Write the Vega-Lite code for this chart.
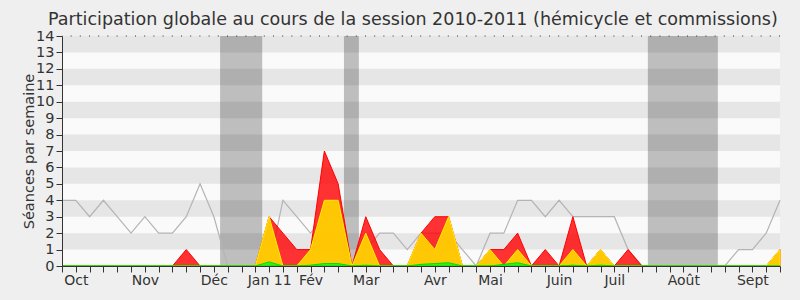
{
  "$schema": "https://vega.github.io/schema/vega-lite/v6.json",
  "width": 718,
  "height": 230,
  "autosize": {"type": "none"},
  "padding": {"left": 62, "top": 36, "right": 20, "bottom": 34},
  "background": "#efefef",
  "title": {"text": "Participation globale au cours de la session 2010-2011 (hémicycle et commissions)", "font": "DejaVu Sans", "fontSize": 17.5, "fontWeight": "normal", "color": "#333333", "anchor": "start", "frame": "group", "dx": -14, "offset": 0},
  "config": {
    "view": {"fill": "#fafafa", "stroke": null},
    "axis": {"labelFont": "DejaVu Sans", "titleFont": "DejaVu Sans", "labelColor": "#333333", "titleColor": "#333333", "domainColor": "#333333", "tickColor": "#333333", "grid": false}
  },
  "resolve": {"axis": {"x": "independent", "y": "independent"}},
  "datasets": {
    "weeks": [
      {"w": 0, "mediane": 4, "presence": 0, "participation": 0, "interventions": 0},
      {"w": 1, "mediane": 4, "presence": 0, "participation": 0, "interventions": 0},
      {"w": 2, "mediane": 3, "presence": 0, "participation": 0, "interventions": 0},
      {"w": 3, "mediane": 4, "presence": 0, "participation": 0, "interventions": 0},
      {"w": 4, "mediane": 3, "presence": 0, "participation": 0, "interventions": 0},
      {"w": 5, "mediane": 2, "presence": 0, "participation": 0, "interventions": 0},
      {"w": 6, "mediane": 3, "presence": 0, "participation": 0, "interventions": 0},
      {"w": 7, "mediane": 2, "presence": 0, "participation": 0, "interventions": 0},
      {"w": 8, "mediane": 2, "presence": 0, "participation": 0, "interventions": 0},
      {"w": 9, "mediane": 3, "presence": 1, "participation": 0, "interventions": 0},
      {"w": 10, "mediane": 5, "presence": 0, "participation": 0, "interventions": 0},
      {"w": 11, "mediane": 3, "presence": 0, "participation": 0, "interventions": 0},
      {"w": 12, "mediane": 0, "presence": 0, "participation": 0, "interventions": 0},
      {"w": 13, "mediane": 0, "presence": 0, "participation": 0, "interventions": 0},
      {"w": 14, "mediane": 0, "presence": 0, "participation": 0, "interventions": 0},
      {"w": 15, "mediane": 0, "presence": 3, "participation": 3, "interventions": 0.25},
      {"w": 16, "mediane": 4, "presence": 2, "participation": 0, "interventions": 0},
      {"w": 17, "mediane": 3, "presence": 1, "participation": 0, "interventions": 0},
      {"w": 18, "mediane": 2, "presence": 1, "participation": 1, "interventions": 0.05},
      {"w": 19, "mediane": 3, "presence": 7, "participation": 4, "interventions": 0.15},
      {"w": 20, "mediane": 2, "presence": 5, "participation": 4, "interventions": 0.15},
      {"w": 21, "mediane": 0, "presence": 0, "participation": 0, "interventions": 0},
      {"w": 22, "mediane": 1, "presence": 3, "participation": 2, "interventions": 0.05},
      {"w": 23, "mediane": 2, "presence": 1, "participation": 0, "interventions": 0},
      {"w": 24, "mediane": 2, "presence": 0, "participation": 0, "interventions": 0},
      {"w": 25, "mediane": 1, "presence": 0, "participation": 0, "interventions": 0},
      {"w": 26, "mediane": 2, "presence": 2, "participation": 2, "interventions": 0.1},
      {"w": 27, "mediane": 2, "presence": 3, "participation": 1, "interventions": 0.15},
      {"w": 28, "mediane": 2, "presence": 3, "participation": 3, "interventions": 0.2},
      {"w": 29, "mediane": 1, "presence": 0, "participation": 0, "interventions": 0},
      {"w": 30, "mediane": 0, "presence": 0, "participation": 0, "interventions": 0},
      {"w": 31, "mediane": 2, "presence": 1, "participation": 1, "interventions": 0},
      {"w": 32, "mediane": 2, "presence": 1, "participation": 0, "interventions": 0.1},
      {"w": 33, "mediane": 4, "presence": 2, "participation": 1, "interventions": 0.2},
      {"w": 34, "mediane": 4, "presence": 0, "participation": 0, "interventions": 0},
      {"w": 35, "mediane": 3, "presence": 1, "participation": 0, "interventions": 0},
      {"w": 36, "mediane": 4, "presence": 0, "participation": 0, "interventions": 0},
      {"w": 37, "mediane": 3, "presence": 3, "participation": 1, "interventions": 0.05},
      {"w": 38, "mediane": 3, "presence": 0, "participation": 0, "interventions": 0},
      {"w": 39, "mediane": 3, "presence": 1, "participation": 1, "interventions": 0.05},
      {"w": 40, "mediane": 3, "presence": 0, "participation": 0, "interventions": 0},
      {"w": 41, "mediane": 1, "presence": 1, "participation": 0, "interventions": 0},
      {"w": 42, "mediane": 0, "presence": 0, "participation": 0, "interventions": 0},
      {"w": 43, "mediane": 0, "presence": 0, "participation": 0, "interventions": 0},
      {"w": 44, "mediane": 0, "presence": 0, "participation": 0, "interventions": 0},
      {"w": 45, "mediane": 0, "presence": 0, "participation": 0, "interventions": 0},
      {"w": 46, "mediane": 0, "presence": 0, "participation": 0, "interventions": 0},
      {"w": 47, "mediane": 0, "presence": 0, "participation": 0, "interventions": 0},
      {"w": 48, "mediane": 0, "presence": 0, "participation": 0, "interventions": 0},
      {"w": 49, "mediane": 1, "presence": 0, "participation": 0, "interventions": 0},
      {"w": 50, "mediane": 1, "presence": 0, "participation": 0, "interventions": 0},
      {"w": 51, "mediane": 2, "presence": 0, "participation": 0, "interventions": 0},
      {"w": 52, "mediane": 4, "presence": 1, "participation": 1, "interventions": 0}
    ],
    "vacances": [
      {"debut": 11.45, "fin": 14.5},
      {"debut": 20.42, "fin": 21.5},
      {"debut": 42.43, "fin": 47.5}
    ],
    "bandes": [
      {"bas": 1, "haut": 2}, {"bas": 3, "haut": 4}, {"bas": 5, "haut": 6}, {"bas": 7, "haut": 8},
      {"bas": 9, "haut": 10}, {"bas": 11, "haut": 12}, {"bas": 13, "haut": 14}
    ]
  },
  "layer": [
    {
      "data": {"name": "vacances"},
      "mark": {"type": "rect", "color": "#bebebe"},
      "encoding": {
        "x": {"field": "debut", "type": "quantitative", "scale": {"domain": [0, 52], "nice": false, "zero": false}, "axis": null},
        "x2": {"field": "fin"}
      }
    },
    {
      "data": {"name": "bandes"},
      "mark": {"type": "rect", "color": "#000000", "opacity": 0.08},
      "encoding": {
        "y": {"field": "bas", "type": "quantitative", "scale": {"domain": [0, 14], "nice": false}, "axis": null},
        "y2": {"field": "haut"}
      }
    },
    {
      "data": {"values": [{}]},
      "mark": {"type": "rule", "color": "#333333", "strokeDash": [1, 8.2], "strokeWidth": 1},
      "encoding": {"y": {"datum": 14, "type": "quantitative", "axis": null}}
    },
    {
      "data": {"name": "weeks"},
      "mark": {"type": "line", "color": "#b4b4b4", "strokeWidth": 1.2},
      "encoding": {
        "x": {"field": "w", "type": "quantitative", "scale": {"domain": [0, 52], "nice": false, "zero": false},
          "axis": {"title": null, "values": [0,1,2,3,4,5,6,7,8,9,10,11,12,13,14,15,16,17,18,19,20,21,22,23,24,25,26,27,28,29,30,31,32,33,34,35,36,37,38,39,40,41,42,43,44,45,46,47,48,49,50,51,52],
            "labelExpr": "datum.value==1?'Oct':datum.value==6?'Nov':datum.value==11?'Déc':datum.value==15?'Jan 11':datum.value==18?'Fév':datum.value==22?'Mar':datum.value==27?'Avr':datum.value==31?'Mai':datum.value==36?'Juin':datum.value==40?'Juil':datum.value==45?'Août':datum.value==50?'Sept':''",
            "labelOverlap": false, "labelFlush": false, "labelFontSize": 14, "labelPadding": 1, "tickSize": 6, "zindex": 2}},
        "y": {"field": "mediane", "type": "quantitative", "scale": {"domain": [0, 14], "nice": false},
          "axis": {"title": "Séances par semaine", "values": [0,1,2,3,4,5,6,7,8,9,10,11,12,13,14], "labelFontSize": 14.5, "labelPadding": 2, "tickSize": 6, "labelOverlap": false, "labelFlush": false, "zindex": 2,
            "titleFontSize": 14.5, "titleFontWeight": "normal", "titleAngle": -90, "titleX": -29, "titleY": 115, "titleAlign": "center", "titleBaseline": "alphabetic"}}
      }
    },
    {
      "data": {"name": "weeks"},
      "mark": {"type": "area", "color": "#ff0000", "fillOpacity": 0.8, "stroke": "#ff0000", "strokeWidth": 1},
      "encoding": {
        "x": {"field": "w", "type": "quantitative", "axis": null},
        "y": {"field": "presence", "type": "quantitative", "stack": null, "axis": null}
      }
    },
    {
      "data": {"name": "weeks"},
      "mark": {"type": "area", "color": "#ffd500", "fillOpacity": 0.92, "stroke": "#ffee00", "strokeWidth": 1},
      "encoding": {
        "x": {"field": "w", "type": "quantitative", "axis": null},
        "y": {"field": "participation", "type": "quantitative", "stack": null, "axis": null}
      }
    },
    {
      "data": {"name": "weeks"},
      "mark": {"type": "area", "color": "#22ee22", "fillOpacity": 0.9, "stroke": "#00dd00", "strokeWidth": 1},
      "encoding": {
        "x": {"field": "w", "type": "quantitative", "axis": null},
        "y": {"field": "interventions", "type": "quantitative", "stack": null, "axis": null}
      }
    }
  ]
}
